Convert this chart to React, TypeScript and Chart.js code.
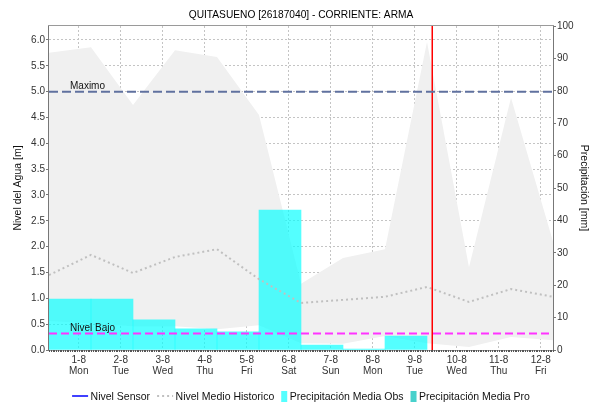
import React, { useEffect, useRef } from 'react';
import { Chart, registerables } from 'chart.js';

Chart.register(...registerables);

// ---------- text ----------
const TITLE = 'QUITASUENO [26187040] - CORRIENTE: ARMA';
const Y_LEFT_TITLE = 'Nivel del Agua [m]';
const Y_RIGHT_TITLE = 'Precipitación [mm]';
const LABEL_MAXIMO = 'Maximo';
const LABEL_BAJO = 'Nivel Bajo';

// ---------- time axis (days counted from 31-Jul 07:00) ----------
const X_MIN = 0;
const X_MAX = 12;
const MIDNIGHT_OFFSET = 17 / 24; // 1-Aug 00:00
const DAY_LABELS = ['1-8', '2-8', '3-8', '4-8', '5-8', '6-8', '7-8', '8-8', '9-8', '10-8', '11-8', '12-8'];
const WEEKDAY_LABELS = ['Mon', 'Tue', 'Wed', 'Thu', 'Fri', 'Sat', 'Sun', 'Mon', 'Tue', 'Wed', 'Thu', 'Fri'];
const HOURS_IN_RANGE = 288;

// ---------- historic level series (daily at 07:00) ----------
const SAMPLE_DAYS = [0, 1, 2, 3, 4, 5, 6, 7, 8, 9, 10, 11, 12];
const HIST_MAX = [5.75, 5.86, 4.74, 5.8, 5.67, 4.55, 1.28, 1.78, 1.95, 5.96, 1.6, 4.88, 2.1];
const HIST_MIN = [0.56, 0.52, 0.46, 0.46, 0.4, 0.48, 0.13, 0.12, 0.27, 0.13, 0.06, 0.25, 0.19];
const HIST_MEAN = [1.45, 1.84, 1.49, 1.8, 1.95, 1.37, 0.91, 0.97, 1.03, 1.22, 0.93, 1.18, 1.03];

// ---------- precipitation (daily bars, mm) ----------
const OBS_DAYS = [0.5, 1.5, 2.5, 3.5, 4.5, 5.5, 6.5, 7.5, 8.5];
const PRECIP_OBS = [15.7, 15.7, 9.3, 6.5, 5.6, 43.2, 1.5, 0.3, 4.3];
const PRECIP_PRO: number[] = [];
const SENSOR_LEVEL: number[] = [];

// ---------- thresholds / markers ----------
const LEVEL_MAXIMO = 5.0;
const LEVEL_BAJO = 0.32;
const NOW_DAY = 9.125;

// ---------- axes ----------
const Y_LEFT_MAX = 6.27;
const Y_RIGHT_MAX = 100;
const LEFT_TICKS = [0, 0.5, 1, 1.5, 2, 2.5, 3, 3.5, 4, 4.5, 5, 5.5, 6];
const RIGHT_TICKS = [0, 10, 20, 30, 40, 50, 60, 70, 80, 90, 100];

// ---------- colours ----------
const C_SENSOR = '#0000ff';
const C_MEAN = '#c0c0c0';
const C_OBS = 'rgba(0,255,255,0.67)';
const C_OBS_LEGEND = '#55ffff';
const C_PRO = '#48d1cc';
const C_BAND = '#f0f0f0';
const C_MAX = '#60719f';
const C_BAJO = '#ff33ff';
const C_NOW = '#ff0000';
const C_GRID = '#c4c4c4';

const FONT = "'Liberation Sans', Arial, sans-serif";

const LEGEND_ITEMS = [
  { label: 'Nivel Sensor', kind: 'line', color: C_SENSOR, dash: [] as number[], width: 1.5 },
  { label: 'Nivel Medio Historico', kind: 'line', color: C_MEAN, dash: [2, 3], width: 2 },
  { label: 'Precipitación Media Obs', kind: 'box', color: C_OBS_LEGEND, dash: [] as number[], width: 0 },
  { label: 'Precipitación Media Pro', kind: 'box', color: C_PRO, dash: [] as number[], width: 0 },
];

const pts = (xs: number[], ys: number[]) => ys.map((y, i) => ({ x: xs[i], y }));

export default function App() {
  const ref = useRef<HTMLCanvasElement>(null);

  useEffect(() => {
    const canvas = ref.current;
    if (!canvas) return;

    const decor = {
      id: 'decor',
      afterDatasetsDraw(chart: any) {
        const { ctx, chartArea: a, scales } = chart;
        const y = scales.y;
        ctx.save();
        ctx.font = `10px ${FONT}`;
        ctx.fillStyle = '#111';
        ctx.textBaseline = 'alphabetic';
        ctx.textAlign = 'left';
        ctx.fillText(LABEL_MAXIMO, a.left + 21, y.getPixelForValue(LEVEL_MAXIMO) - 2.5);
        ctx.fillText(LABEL_BAJO, a.left + 21, y.getPixelForValue(LEVEL_BAJO) - 2);
        ctx.restore();
      },
      afterDraw(chart: any) {
        const { ctx, chartArea: a, scales } = chart;
        const x = scales.x;
        ctx.save();
        // plot outline
        ctx.strokeStyle = '#9a9a9a';
        ctx.lineWidth = 1;
        ctx.strokeRect(a.left - 0.5, a.top - 0.5, a.right - a.left + 1, a.bottom - a.top + 1);
        ctx.strokeStyle = '#777';
        ctx.beginPath();
        ctx.moveTo(a.left - 0.5, a.top);
        ctx.lineTo(a.left - 0.5, a.bottom + 1);
        ctx.moveTo(a.right + 0.5, a.top);
        ctx.lineTo(a.right + 0.5, a.bottom + 1);
        ctx.stroke();
        // hourly minor ticks on the time axis
        ctx.strokeStyle = '#555';
        ctx.beginPath();
        for (let h = 0; h <= HOURS_IN_RANGE; h++) {
          const px = Math.round(x.getPixelForValue(h / 24)) + 0.5;
          ctx.moveTo(px, a.bottom);
          ctx.lineTo(px, a.bottom + 2);
        }
        ctx.stroke();

        // title
        const cx = (a.left + a.right) / 2;
        ctx.font = `10.2px ${FONT}`;
        ctx.fillStyle = '#000';
        ctx.textAlign = 'center';
        ctx.textBaseline = 'alphabetic';
        ctx.fillText(TITLE, cx, 18);

        // legend
        ctx.font = `10.5px ${FONT}`;
        ctx.textAlign = 'left';
        const symW = (k: string) => (k === 'line' ? 16 : 6);
        const gapST = 2.5;
        const gapItem = 7;
        const widths = LEGEND_ITEMS.map((it) => symW(it.kind) + gapST + ctx.measureText(it.label).width);
        const total = widths.reduce((s, w) => s + w, 0) + gapItem * (LEGEND_ITEMS.length - 1);
        let lx = cx - total / 2;
        const baseY = 399.5;
        const midY = 396;
        LEGEND_ITEMS.forEach((it, i) => {
          if (it.kind === 'line') {
            ctx.strokeStyle = it.color;
            ctx.lineWidth = it.width;
            ctx.setLineDash(it.dash);
            ctx.beginPath();
            ctx.moveTo(lx, midY);
            ctx.lineTo(lx + 16, midY);
            ctx.stroke();
            ctx.setLineDash([]);
          } else {
            ctx.fillStyle = it.color;
            ctx.fillRect(lx, 391, 6, 11);
          }
          ctx.fillStyle = '#111';
          ctx.fillText(it.label, lx + symW(it.kind) + gapST, baseY);
          lx += widths[i] + gapItem;
        });
        ctx.restore();
      },
    };

    const chart = new Chart(canvas, {
      type: 'bar',
      data: {
        datasets: [
          {
            type: 'line',
            label: 'Nivel Sensor',
            data: pts(SAMPLE_DAYS, SENSOR_LEVEL),
            borderColor: C_SENSOR,
            borderWidth: 1.5,
            pointRadius: 0,
            yAxisID: 'y',
            order: 0,
          },
          {
            type: 'line',
            label: 'Maximo',
            data: [{ x: X_MIN, y: LEVEL_MAXIMO }, { x: X_MAX, y: LEVEL_MAXIMO }],
            borderColor: C_MAX,
            borderWidth: 2,
            borderDash: [9, 4],
            pointRadius: 0,
            yAxisID: 'y',
            order: 0,
          },
          {
            type: 'line',
            label: 'Nivel Bajo',
            data: [{ x: X_MIN, y: LEVEL_BAJO }, { x: X_MAX, y: LEVEL_BAJO }],
            borderColor: C_BAJO,
            borderWidth: 2,
            borderDash: [8, 4],
            pointRadius: 0,
            yAxisID: 'y',
            order: 0,
          },
          {
            type: 'line',
            label: 'Ahora',
            data: [{ x: NOW_DAY, y: 0 }, { x: NOW_DAY, y: Y_LEFT_MAX }],
            borderColor: C_NOW,
            borderWidth: 1.5,
            pointRadius: 0,
            yAxisID: 'y',
            order: 0,
          },
          {
            type: 'line',
            label: 'Nivel Medio Historico',
            data: pts(SAMPLE_DAYS, HIST_MEAN),
            borderColor: C_MEAN,
            borderWidth: 2,
            borderDash: [2, 3],
            pointRadius: 0,
            fill: false,
            yAxisID: 'y',
            order: 1,
          },
          {
            type: 'bar',
            label: 'Precipitación Media Obs',
            data: pts(OBS_DAYS, PRECIP_OBS),
            backgroundColor: C_OBS,
            borderWidth: 0,
            barPercentage: 1,
            categoryPercentage: 1,
            grouped: false,
            yAxisID: 'y1',
            order: 5,
          },
          {
            type: 'bar',
            label: 'Precipitación Media Pro',
            data: pts(OBS_DAYS, PRECIP_PRO),
            backgroundColor: C_PRO,
            borderWidth: 0,
            barPercentage: 1,
            categoryPercentage: 1,
            grouped: false,
            yAxisID: 'y1',
            order: 6,
          },
          {
            type: 'line',
            label: 'Min Historico',
            data: pts(SAMPLE_DAYS, HIST_MIN),
            borderWidth: 0,
            borderColor: 'rgba(0,0,0,0)',
            pointRadius: 0,
            fill: false,
            yAxisID: 'y',
            order: 10,
          },
          {
            type: 'line',
            label: 'Max Historico',
            data: pts(SAMPLE_DAYS, HIST_MAX),
            borderWidth: 0,
            borderColor: 'rgba(0,0,0,0)',
            backgroundColor: C_BAND,
            pointRadius: 0,
            fill: 7,
            yAxisID: 'y',
            order: 10,
          },
        ] as any,
      },
      options: {
        responsive: false,
        maintainAspectRatio: false,
        animation: false,
        events: [],
        layout: { padding: { top: 26, bottom: 23, left: 0, right: 0 } },
        plugins: {
          legend: { display: false },
          title: { display: false },
          tooltip: { enabled: false },
        },
        scales: {
          x: {
            type: 'linear',
            offset: false,
            min: X_MIN,
            max: X_MAX,
            afterBuildTicks: (s: any) => {
              s.ticks = DAY_LABELS.map((_, i) => ({ value: MIDNIGHT_OFFSET + i }));
            },
            afterFit: (s: any) => {
              s.height = 30;
            },
            ticks: {
              autoSkip: false,
              maxRotation: 0,
              padding: 5,
              color: '#333',
              font: { family: FONT, size: 10, lineHeight: 1.1 },
              callback: (_v: any, i: number) => [DAY_LABELS[i], WEEKDAY_LABELS[i]],
            },
            grid: { color: C_GRID, lineWidth: 1, drawTicks: false, offset: false },
            border: { display: false, dash: [2, 2] },
          },
          y: {
            type: 'linear',
            position: 'left',
            min: 0,
            max: Y_LEFT_MAX,
            afterBuildTicks: (s: any) => {
              s.ticks = LEFT_TICKS.map((v) => ({ value: v }));
            },
            afterFit: (s: any) => {
              s.width = 49;
            },
            ticks: {
              padding: 1,
              color: '#333',
              font: { family: FONT, size: 10 },
              callback: (v: any) => Number(v).toFixed(1),
            },
            grid: { color: C_GRID, lineWidth: 1, drawTicks: true, tickLength: 3, tickColor: '#777' },
            border: { display: false, dash: [2, 2] },
            title: {
              display: true,
              text: Y_LEFT_TITLE,
              color: '#111',
              font: { family: FONT, size: 10.5 },
              padding: { top: 11.5, bottom: 0 },
            },
          },
          y1: {
            type: 'linear',
            position: 'right',
            min: 0,
            max: Y_RIGHT_MAX,
            afterBuildTicks: (s: any) => {
              s.ticks = RIGHT_TICKS.map((v) => ({ value: v }));
            },
            afterFit: (s: any) => {
              s.width = 37;
            },
            ticks: {
              padding: 1,
              color: '#333',
              font: { family: FONT, size: 10 },
              callback: (v: any) => String(v),
            },
            grid: { drawOnChartArea: false, drawTicks: true, tickLength: 3, tickColor: '#777' },
            border: { display: false },
            title: {
              display: true,
              text: Y_RIGHT_TITLE,
              color: '#111',
              font: { family: FONT, size: 10.5 },
              padding: { top: 0, bottom: 0 },
            },
          },
        },
      } as any,
      plugins: [decor],
    });

    return () => chart.destroy();
  }, []);

  return (
    <div style={{ position: 'absolute', left: 0, top: 0, width: 590, height: 403, background: '#fff' }}>
      <canvas ref={ref} width={590} height={403} style={{ display: 'block' }} />
    </div>
  );
}
